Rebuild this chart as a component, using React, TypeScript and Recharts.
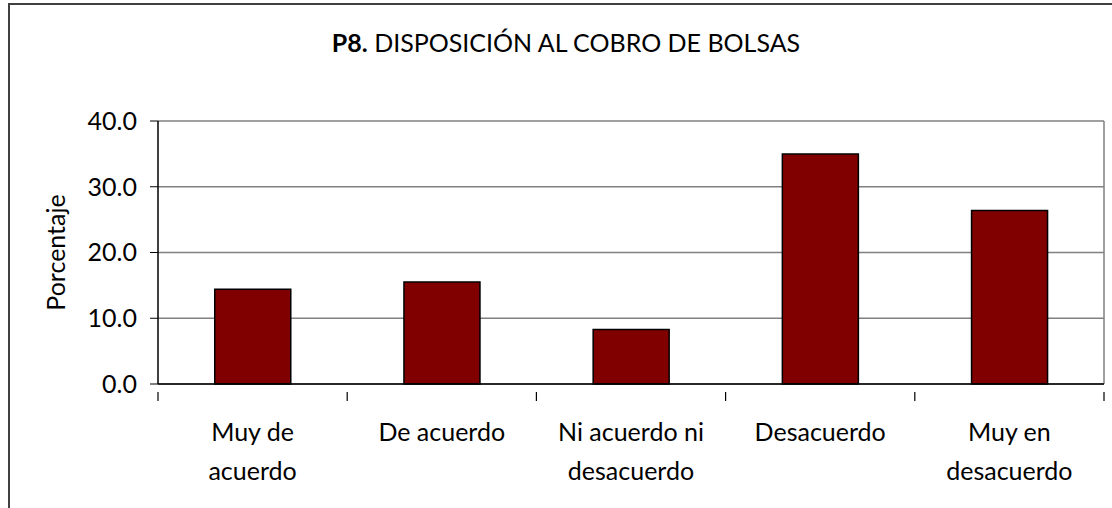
import React from "react";
import { BarChart, Bar, XAxis, YAxis, CartesianGrid } from "recharts";

const categories = ["Muy de acuerdo", "De acuerdo", "Ni acuerdo ni desacuerdo", "Desacuerdo", "Muy en desacuerdo"];
const tickLines: string[][] = [["Muy de", "acuerdo"], ["De acuerdo"], ["Ni acuerdo ni", "desacuerdo"], ["Desacuerdo"], ["Muy en", "desacuerdo"]];
const percentages = [14.4, 15.5, 8.3, 35.0, 26.4];
const yTicks = [0, 10, 20, 30, 40];

const data = categories.map((c, i) => ({ name: c, value: percentages[i], lines: tickLines[i] }));

const W = 1112;
const H = 508;
const M = { top: 121, right: 8, left: 0, bottom: 0 };
const Y_W = 158;
const X_H = 124;
const FONT = "Lato, 'Open Sans', sans-serif";
const FS = 25;

const plotWidth = W - M.left - M.right - Y_W;
const band = plotWidth / categories.length;

const XTick = (props: any) => {
  const { x, y, payload, index } = props;
  const lines = tickLines[index] || [String(payload.value)];
  const left = x - band / 2;
  const right = x + band / 2;
  return (
    <g>
      <line x1={left} x2={left} y1={y} y2={y + 9} stroke="#000" strokeWidth={1.2} />
      {index === categories.length - 1 && (
        <line x1={right} x2={right} y1={y} y2={y + 9} stroke="#000" strokeWidth={1.2} />
      )}
      <text x={x} y={y + 49} textAnchor="middle" fontFamily={FONT} fontSize={FS} fill="#000">
        {lines.map((l, i) => (
          <tspan key={i} x={x} dy={i === 0 ? 0 : 39}>
            {l}
          </tspan>
        ))}
      </text>
    </g>
  );
};

export default function App() {
  return (
    <div style={{ position: "absolute", left: 0, top: 0, width: W, height: H, overflow: "hidden", background: "#fff" }}>
      <div
        style={{
          position: "absolute",
          left: 8,
          top: 3,
          width: W + 20,
          height: H + 20,
          borderTop: "2px solid #404040",
          borderLeft: "2px solid #404040",
          boxSizing: "border-box",
        }}
      />
      <div
        style={{
          position: "absolute",
          left: 0,
          width: W,
          top: 25,
          textAlign: "center",
          fontFamily: FONT,
          fontSize: FS,
          lineHeight: "34px",
          color: "#000",
          transform: "translateX(10px)",
        }}
      >
        <b>P8.</b> DISPOSICIÓN AL COBRO DE BOLSAS
      </div>
      <div style={{ position: "absolute", left: 0, top: 0 }}>
        <BarChart width={W} height={H} data={data} margin={M} barCategoryGap="30%">
          <CartesianGrid
            stroke="#808080"
            strokeWidth={1.5}
            horizontal={true}
            vertical={true}
            verticalCoordinatesGenerator={(p: any) => [p.offset.left + p.offset.width]}
          />
          <XAxis
            dataKey="name"
            height={X_H}
            interval={0}
            tickLine={false}
            axisLine={{ stroke: "#000", strokeWidth: 1.5 }}
            tick={<XTick />}
          />
          <YAxis
            width={Y_W}
            domain={[0, 40]}
            ticks={yTicks}
            interval={0}
            tickFormatter={(v: number) => v.toFixed(1)}
            tickSize={8}
            tickMargin={13}
            tickLine={{ stroke: "#000" }}
            axisLine={{ stroke: "#000", strokeWidth: 1.5 }}
            tick={{ fontFamily: FONT, fontSize: FS, fill: "#000" }}
            label={{
              value: "Porcentaje",
              angle: -90,
              position: "insideLeft",
              offset: 56,
              style: { fontFamily: FONT, fontSize: FS, fill: "#000", textAnchor: "middle" },
            }}
          />
          <Bar dataKey="value" fill="#800000" stroke="#000" strokeWidth={1.5} isAnimationActive={false} />
        </BarChart>
      </div>
    </div>
  );
}
